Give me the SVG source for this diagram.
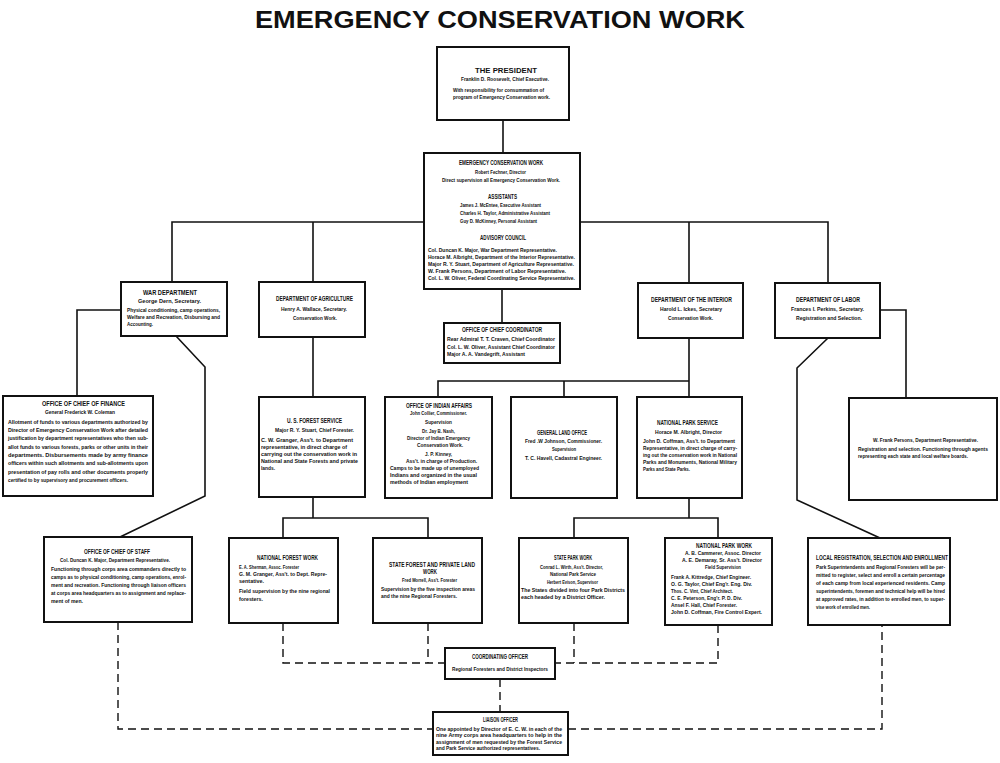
<svg xmlns="http://www.w3.org/2000/svg" width="1000" height="763" viewBox="0 0 1000 763">
<style>
.box{fill:#fff;stroke:#111;stroke-width:2}
.ln{fill:none;stroke:#111;stroke-width:1.6}
.dl{fill:none;stroke:#111;stroke-width:1.4;stroke-dasharray:8 5}
text{font-family:'Liberation Sans',Arial,sans-serif;font-weight:bold;fill:#111;font-size:6px}
.tt{font-size:24px}
.h{font-size:6.3px}
.sm{font-size:4.6px}
</style>
<rect width="1000" height="763" fill="#fff"/>
<text class="tt" x="255" y="28" textLength="490" lengthAdjust="spacingAndGlyphs">EMERGENCY CONSERVATION WORK</text>

<g id="connectors">
<path class="ln" d="M503 120V153"/>
<path class="ln" d="M172 282V222H424M580 222H828V283M313 222V282M689 222V283"/>
<path class="ln" d="M502 289V323"/>
<path class="ln" d="M121 310H77V396"/>
<path class="ln" d="M176 336L205 367V496L120 537"/>
<path class="ln" d="M313 337V397"/>
<path class="ln" d="M689 338V397M438 397V381H689M564 381V397"/>
<path class="ln" d="M880 310H906V398"/>
<path class="ln" d="M828 338L797 368V500L880 538"/>
<path class="ln" d="M313 497V518M283 538V518H428V538"/>
<path class="ln" d="M689 498V518M574 538V518H718V538"/>
<path class="dl" d="M283 623V663H445M428 623V663M574 623V663M718 625V663H555"/>
<path class="dl" d="M500 679V712"/>
<path class="dl" d="M118 622V729H433M568 729H882V625"/>
</g>

<g id="president">
<rect class="box" x="437" y="47" width="132" height="73"/>
<text class="h" x="475" y="73" textLength="62" lengthAdjust="spacingAndGlyphs" style="font-size:7px">THE PRESIDENT</text>
<text x="461" y="81" textLength="88" lengthAdjust="spacingAndGlyphs">Franklin D. Roosevelt, Chief Executive.</text>
<text x="453" y="92" textLength="91" lengthAdjust="spacingAndGlyphs">With responsibility for consummation of</text>
<text x="453" y="99" textLength="97" lengthAdjust="spacingAndGlyphs">program of Emergency Conservation work.</text>
</g>

<g id="ecw">
<rect class="box" x="424" y="153" width="156" height="136"/>
<text class="h" x="459" y="165" textLength="84" lengthAdjust="spacingAndGlyphs">EMERGENCY CONSERVATION WORK</text>
<text x="475" y="174" textLength="51" lengthAdjust="spacingAndGlyphs">Robert Fechner, Director</text>
<text x="442" y="182" textLength="118" lengthAdjust="spacingAndGlyphs">Direct supervision all Emergency Conservation Work.</text>
<text class="h" x="488" y="199" textLength="29" lengthAdjust="spacingAndGlyphs">ASSISTANTS</text>
<text x="460" y="207" textLength="81" lengthAdjust="spacingAndGlyphs">James J. McEntee, Executive Assistant</text>
<text x="460" y="215" textLength="90" lengthAdjust="spacingAndGlyphs">Charles H. Taylor, Administrative Assistant</text>
<text x="460" y="223" textLength="77" lengthAdjust="spacingAndGlyphs">Guy D. McKinney, Personal Assistant</text>
<text class="h" x="480" y="240" textLength="46" lengthAdjust="spacingAndGlyphs">ADVISORY COUNCIL</text>
<text x="428" y="252" textLength="129" lengthAdjust="spacingAndGlyphs">Col. Duncan K. Major, War Department Representative.</text>
<text x="428" y="259" textLength="147" lengthAdjust="spacingAndGlyphs">Horace M. Albright, Department of the Interior Representative.</text>
<text x="428" y="266" textLength="146" lengthAdjust="spacingAndGlyphs">Major R. Y. Stuart, Department of Agriculture Representative.</text>
<text x="428" y="273" textLength="138" lengthAdjust="spacingAndGlyphs">W. Frank Persons, Department of Labor Representative.</text>
<text x="428" y="280" textLength="147" lengthAdjust="spacingAndGlyphs">Col. L. W. Oliver, Federal Coordinating Service Representative.</text>
</g>

<g id="war">
<rect class="box" x="121" y="282" width="106" height="54"/>
<text class="h" x="143" y="295" textLength="54" lengthAdjust="spacingAndGlyphs">WAR DEPARTMENT</text>
<text x="138" y="303" textLength="63" lengthAdjust="spacingAndGlyphs">George Dern, Secretary.</text>
<text x="127" y="312" textLength="93" lengthAdjust="spacingAndGlyphs">Physical conditioning, camp operations,</text>
<text x="127" y="319" textLength="93" lengthAdjust="spacingAndGlyphs">Welfare and Recreation, Disbursing and</text>
<text x="127" y="326" textLength="26" lengthAdjust="spacingAndGlyphs">Accounting.</text>
</g>

<g id="agriculture">
<rect class="box" x="259" y="282" width="106" height="55"/>
<text class="h" x="276" y="301" textLength="77" lengthAdjust="spacingAndGlyphs">DEPARTMENT OF AGRICULTURE</text>
<text x="281" y="311" textLength="66" lengthAdjust="spacingAndGlyphs">Henry A. Wallace, Secretary.</text>
<text x="293" y="320" textLength="44" lengthAdjust="spacingAndGlyphs">Conservation Work.</text>
</g>

<g id="interior">
<rect class="box" x="638" y="283" width="105" height="55"/>
<text class="h" x="651" y="302" textLength="81" lengthAdjust="spacingAndGlyphs">DEPARTMENT OF THE INTERIOR</text>
<text x="660" y="311" textLength="62" lengthAdjust="spacingAndGlyphs">Harold L. Ickes, Secretary</text>
<text x="668" y="320" textLength="45" lengthAdjust="spacingAndGlyphs">Conservation Work.</text>
</g>

<g id="labor">
<rect class="box" x="775" y="283" width="105" height="55"/>
<text class="h" x="796" y="302" textLength="64" lengthAdjust="spacingAndGlyphs">DEPARTMENT OF LABOR</text>
<text x="791" y="311" textLength="73" lengthAdjust="spacingAndGlyphs">Frances I. Perkins, Secretary.</text>
<text x="796" y="320" textLength="66" lengthAdjust="spacingAndGlyphs">Registration and Selection.</text>
</g>

<g id="chief-coordinator">
<rect class="box" x="444" y="323" width="116" height="40"/>
<text class="h" x="462" y="332" textLength="80" lengthAdjust="spacingAndGlyphs">OFFICE OF CHIEF COORDINATOR</text>
<text x="447" y="341" textLength="108" lengthAdjust="spacingAndGlyphs">Rear Admiral T. T. Craven, Chief Coordinator</text>
<text x="447" y="349" textLength="108" lengthAdjust="spacingAndGlyphs">Col. L. W. Oliver, Assistant Chief Coordinator</text>
<text x="447" y="356" textLength="78" lengthAdjust="spacingAndGlyphs">Major A. A. Vandegrift, Assistant</text>
</g>

<g id="finance">
<rect class="box" x="3" y="396" width="150" height="100"/>
<text class="h" x="42" y="406" textLength="83" lengthAdjust="spacingAndGlyphs">OFFICE OF CHIEF OF FINANCE</text>
<text x="45" y="414" textLength="70" lengthAdjust="spacingAndGlyphs">General Frederick W. Coleman</text>
<text x="8" y="424" textLength="140" lengthAdjust="spacingAndGlyphs">Allotment of funds to various departments authorized by</text>
<text x="8" y="432" textLength="140" lengthAdjust="spacingAndGlyphs">Director of Emergency Conservation Work after detailed</text>
<text x="8" y="440" textLength="140" lengthAdjust="spacingAndGlyphs">justification by department representatives who then sub-</text>
<text x="8" y="449" textLength="140" lengthAdjust="spacingAndGlyphs">allot funds to various forests, parks or other units in their</text>
<text x="8" y="457" textLength="140" lengthAdjust="spacingAndGlyphs">departments.   Disbursements made by army finance</text>
<text x="8" y="465" textLength="140" lengthAdjust="spacingAndGlyphs">officers within such allotments and sub-allotments upon</text>
<text x="8" y="474" textLength="140" lengthAdjust="spacingAndGlyphs">presentation of pay rolls and other documents properly</text>
<text x="8" y="482" textLength="120" lengthAdjust="spacingAndGlyphs">certified to by supervisory and procurement officers.</text>
</g>

<g id="forest-service">
<rect class="box" x="259" y="397" width="106" height="100"/>
<text class="h" x="287" y="423" textLength="55" lengthAdjust="spacingAndGlyphs">U. S. FOREST SERVICE</text>
<text x="275" y="432" textLength="79" lengthAdjust="spacingAndGlyphs">Major R. Y. Stuart, Chief Forester.</text>
<text x="261" y="442" textLength="92" lengthAdjust="spacingAndGlyphs">C. W. Granger, Ass't. to Department</text>
<text x="261" y="449" textLength="86" lengthAdjust="spacingAndGlyphs">representative, in direct charge of</text>
<text x="261" y="456" textLength="96" lengthAdjust="spacingAndGlyphs">carrying out the conservation work in</text>
<text x="261" y="463" textLength="97" lengthAdjust="spacingAndGlyphs">National and State Forests and private</text>
<text x="261" y="470" textLength="14" lengthAdjust="spacingAndGlyphs">lands.</text>
</g>

<g id="indian-affairs">
<rect class="box" x="385" y="397" width="107" height="101"/>
<text class="h" x="406" y="408" textLength="66" lengthAdjust="spacingAndGlyphs">OFFICE OF INDIAN AFFAIRS</text>
<text x="410" y="415" textLength="57" lengthAdjust="spacingAndGlyphs">John Collier, Commissioner.</text>
<text x="425" y="424" textLength="27" lengthAdjust="spacingAndGlyphs">Supervision</text>
<text x="422" y="433" textLength="33" lengthAdjust="spacingAndGlyphs">Dr. Jay B. Nash,</text>
<text x="407" y="440" textLength="63" lengthAdjust="spacingAndGlyphs">Director of Indian Emergency</text>
<text x="417" y="447" textLength="46" lengthAdjust="spacingAndGlyphs">Conservation Work.</text>
<text x="425" y="456" textLength="27" lengthAdjust="spacingAndGlyphs">J. P. Kinney,</text>
<text x="406" y="463" textLength="71" lengthAdjust="spacingAndGlyphs">Ass't. in charge of Production.</text>
<text x="390" y="470" textLength="89" lengthAdjust="spacingAndGlyphs">Camps to be made up of unemployed</text>
<text x="390" y="477" textLength="87" lengthAdjust="spacingAndGlyphs">Indians and organized in the usual</text>
<text x="390" y="484" textLength="78" lengthAdjust="spacingAndGlyphs">methods of Indian employment</text>
</g>

<g id="land-office">
<rect class="box" x="511" y="397" width="106" height="101"/>
<text class="h" x="537" y="435" textLength="50" lengthAdjust="spacingAndGlyphs">GENERAL LAND OFFICE</text>
<text x="525" y="443" textLength="77" lengthAdjust="spacingAndGlyphs">Fred .W Johnson, Commissioner.</text>
<text x="552" y="451" textLength="24" lengthAdjust="spacingAndGlyphs">Supervision</text>
<text x="525" y="460" textLength="77" lengthAdjust="spacingAndGlyphs">T. C. Havell, Cadastral Engineer.</text>
</g>

<g id="park-service">
<rect class="box" x="637" y="397" width="105" height="101"/>
<text class="h" x="657" y="425" textLength="61" lengthAdjust="spacingAndGlyphs">NATIONAL PARK SERVICE</text>
<text x="655" y="434" textLength="67" lengthAdjust="spacingAndGlyphs">Horace M. Albright, Director</text>
<text x="643" y="443" textLength="92" lengthAdjust="spacingAndGlyphs">John D. Coffman, Ass't. to Department</text>
<text x="643" y="450" textLength="94" lengthAdjust="spacingAndGlyphs">Representative, in direct charge of carry-</text>
<text x="643" y="457" textLength="94" lengthAdjust="spacingAndGlyphs">ing out the conservation work in National</text>
<text x="643" y="464" textLength="94" lengthAdjust="spacingAndGlyphs">Parks and Monuments, National Military</text>
<text x="643" y="471" textLength="47" lengthAdjust="spacingAndGlyphs">Parks and State Parks.</text>
</g>

<g id="labor-rep">
<rect class="box" x="849" y="398" width="148" height="102"/>
<text class="sm" x="873" y="442" textLength="105" lengthAdjust="spacingAndGlyphs">W. Frank Persons, Department Representative.</text>
<text class="sm" x="858" y="451" textLength="130" lengthAdjust="spacingAndGlyphs">Registration and selection.   Functioning through agents</text>
<text class="sm" x="858" y="458" textLength="110" lengthAdjust="spacingAndGlyphs">representing each state and local welfare boards.</text>
</g>

<g id="chief-staff">
<rect class="box" x="44" y="537" width="148" height="85"/>
<text class="h" x="84" y="554" textLength="66" lengthAdjust="spacingAndGlyphs">OFFICE OF CHIEF OF STAFF</text>
<text x="60" y="562" textLength="110" lengthAdjust="spacingAndGlyphs">Col. Duncan K. Major, Department Representative.</text>
<text x="51" y="571" textLength="135" lengthAdjust="spacingAndGlyphs">Functioning through corps area commanders directly to</text>
<text x="51" y="579" textLength="135" lengthAdjust="spacingAndGlyphs">camps as to physical conditioning, camp operations, enrol-</text>
<text x="51" y="587" textLength="135" lengthAdjust="spacingAndGlyphs">ment and recreation.   Functioning through liaison officers</text>
<text x="51" y="595" textLength="135" lengthAdjust="spacingAndGlyphs">at corps area headquarters as to assignment and replace-</text>
<text x="51" y="603" textLength="32" lengthAdjust="spacingAndGlyphs">ment of men.</text>
</g>

<g id="national-forest-work">
<rect class="box" x="229" y="538" width="109" height="85"/>
<text class="h" x="257" y="560" textLength="61" lengthAdjust="spacingAndGlyphs">NATIONAL FOREST WORK</text>
<text x="239" y="569" textLength="60" lengthAdjust="spacingAndGlyphs">E. A. Sherman, Assoc. Forester</text>
<text x="239" y="576" textLength="88" lengthAdjust="spacingAndGlyphs">G. M. Granger, Ass't. to Dept. Repre-</text>
<text x="239" y="583" textLength="25" lengthAdjust="spacingAndGlyphs">sentative.</text>
<text x="239" y="593" textLength="91" lengthAdjust="spacingAndGlyphs">Field supervision by the nine regional</text>
<text x="239" y="601" textLength="24" lengthAdjust="spacingAndGlyphs">foresters.</text>
</g>

<g id="state-forest-work">
<rect class="box" x="373" y="538" width="109" height="85"/>
<text class="h" x="389" y="567" textLength="86" lengthAdjust="spacingAndGlyphs">STATE FOREST AND PRIVATE LAND</text>
<text class="h" x="423" y="574" textLength="14" lengthAdjust="spacingAndGlyphs">WORK</text>
<text x="402" y="582" textLength="55" lengthAdjust="spacingAndGlyphs">Fred Morrell, Ass't. Forester</text>
<text x="381" y="591" textLength="94" lengthAdjust="spacingAndGlyphs">Supervision by the five inspection areas</text>
<text x="381" y="598" textLength="76" lengthAdjust="spacingAndGlyphs">and the nine Regional Foresters.</text>
</g>

<g id="state-park-work">
<rect class="box" x="519" y="538" width="109" height="85"/>
<text class="h" x="554" y="560" textLength="38" lengthAdjust="spacingAndGlyphs">STATE PARK WORK</text>
<text x="540" y="569" textLength="63" lengthAdjust="spacingAndGlyphs">Conrad L. Wirth, Ass't. Director,</text>
<text x="550" y="576" textLength="46" lengthAdjust="spacingAndGlyphs">National Park Service</text>
<text x="547" y="584" textLength="51" lengthAdjust="spacingAndGlyphs">Herbert Evison, Supervisor</text>
<text x="521" y="592" textLength="104" lengthAdjust="spacingAndGlyphs">The States divided into four Park Districts</text>
<text x="521" y="599" textLength="84" lengthAdjust="spacingAndGlyphs">each headed by a District Officer.</text>
</g>

<g id="national-park-work">
<rect class="box" x="665" y="538" width="107" height="87"/>
<text class="h" x="696" y="548" textLength="56" lengthAdjust="spacingAndGlyphs">NATIONAL PARK WORK</text>
<text x="685" y="555" textLength="76" lengthAdjust="spacingAndGlyphs">A. B. Cammerer, Assoc. Director</text>
<text x="682" y="562" textLength="80" lengthAdjust="spacingAndGlyphs">A. E. Demaray, Sr. Ass't. Director</text>
<text x="705" y="569" textLength="36" lengthAdjust="spacingAndGlyphs">Field Supervision</text>
<text x="671" y="579" textLength="80" lengthAdjust="spacingAndGlyphs">Frank A. Kittredge, Chief Engineer.</text>
<text x="671" y="586" textLength="81" lengthAdjust="spacingAndGlyphs">O. G. Taylor, Chief Eng'r. Eng. Div.</text>
<text x="671" y="593" textLength="62" lengthAdjust="spacingAndGlyphs">Thos. C. Vint, Chief Architect.</text>
<text x="671" y="600" textLength="71" lengthAdjust="spacingAndGlyphs">C. E. Peterson, Eng'r. P. D. Div.</text>
<text x="671" y="607" textLength="66" lengthAdjust="spacingAndGlyphs">Ansel F. Hall, Chief Forester.</text>
<text x="671" y="614" textLength="91" lengthAdjust="spacingAndGlyphs">John D. Coffman, Fire Control Expert.</text>
</g>

<g id="local-registration">
<rect class="box" x="808" y="538" width="142" height="87"/>
<text class="h" x="816" y="560" textLength="132" lengthAdjust="spacingAndGlyphs">LOCAL REGISTRATION, SELECTION AND ENROLLMENT</text>
<text x="816" y="569" textLength="129" lengthAdjust="spacingAndGlyphs">Park Superintendents and Regional Foresters will be per-</text>
<text x="816" y="577" textLength="129" lengthAdjust="spacingAndGlyphs">mitted to register, select and enroll a certain percentage</text>
<text x="816" y="585" textLength="129" lengthAdjust="spacingAndGlyphs">of each camp from local experienced residents.   Camp</text>
<text x="816" y="593" textLength="129" lengthAdjust="spacingAndGlyphs">superintendents, foremen and technical help will be hired</text>
<text x="816" y="601" textLength="129" lengthAdjust="spacingAndGlyphs">at approved rates, in addition to enrolled men, to super-</text>
<text x="816" y="609" textLength="54" lengthAdjust="spacingAndGlyphs">vise work of enrolled men.</text>
</g>

<g id="coordinating-officer">
<rect class="box" x="445" y="648" width="110" height="31"/>
<text class="h" x="472" y="659" textLength="56" lengthAdjust="spacingAndGlyphs">COORDINATING OFFICER</text>
<text x="452" y="671" textLength="96" lengthAdjust="spacingAndGlyphs">Regional Foresters and District Inspectors</text>
</g>

<g id="liaison-officer">
<rect class="box" x="433" y="712" width="135" height="43"/>
<text class="h" x="483" y="722" textLength="35" lengthAdjust="spacingAndGlyphs">LIAISON OFFICER</text>
<text x="436" y="731" textLength="126" lengthAdjust="spacingAndGlyphs">One appointed by Director of E. C. W. in each of the</text>
<text x="436" y="737" textLength="126" lengthAdjust="spacingAndGlyphs">nine Army corps area headquarters to help in the</text>
<text x="436" y="744" textLength="126" lengthAdjust="spacingAndGlyphs">assignment of men requested by the Forest Service</text>
<text x="436" y="750" textLength="104" lengthAdjust="spacingAndGlyphs">and Park Service authorized representatives.</text>
</g>
</svg>
